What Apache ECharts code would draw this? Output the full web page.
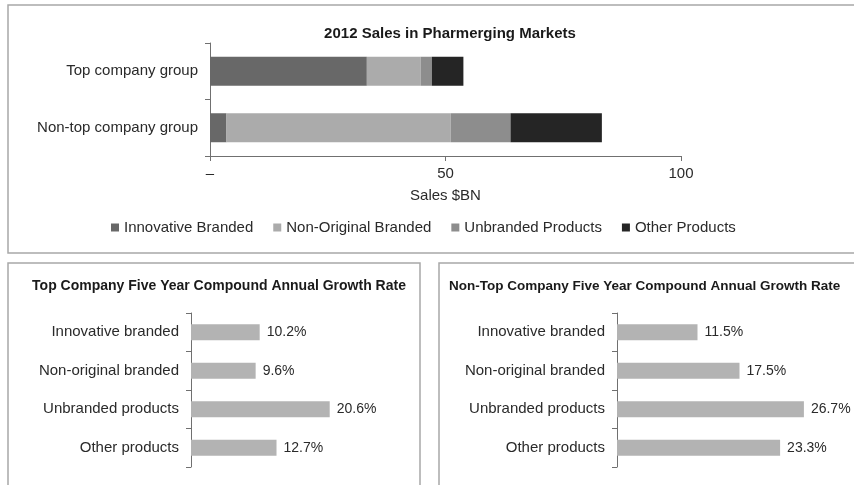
<!DOCTYPE html>
<html>
<head>
<meta charset="utf-8">
<script src="https://cdn.jsdelivr.net/npm/echarts@6/dist/echarts.min.js"></script>
<style>
  html, body { margin: 0; padding: 0; background: #fff; }
  #chart { width: 854px; height: 485px; }
</style>
</head>
<body>
<div id="chart"></div>
<script>
// 2012 sales ($BN) by group, stacked by product type
var groups = ['Top company group', 'Non-top company group'];
var productTypes = ['Innovative Branded', 'Non-Original Branded', 'Unbranded Products', 'Other Products'];
var innovative = [33.3, 3.5];
var nonOriginal = [11.4, 47.6];
var unbranded = [2.4, 12.7];
var other = [6.7, 19.4];
var salesTicks = [0, 50, 100];

// five year CAGR (%)
var cagrCategories = ['Innovative branded', 'Non-original branded', 'Unbranded products', 'Other products'];
var topCagr = [10.2, 9.6, 20.6, 12.7];
var nonTopCagr = [11.5, 17.5, 26.7, 23.3];

var colors = ['#686868', '#ababab', '#8d8d8d', '#252525'];
var font = 'Liberation Sans, Arial, sans-serif';

var dom = document.getElementById('chart');
var myChart = echarts.init(dom);

var stackData = [innovative, nonOriginal, unbranded, other];

function cagrBars(data, idx) {
    return {
        type: 'bar',
        xAxisIndex: idx,
        yAxisIndex: idx,
        data: data,
        barWidth: 16,
        itemStyle: { color: '#b3b3b3' },
        label: {
            show: true,
            position: 'right',
            distance: 7,
            color: '#2a2a2a',
            fontFamily: font,
            fontSize: 14,
            formatter: function (p) { return p.value.toFixed(1) + '%'; }
        },
        silent: true
    };
}

function catAxis(data, idx, size) {
    return {
        type: 'category',
        gridIndex: idx,
        data: data,
        inverse: true,
        axisLine: { show: true, lineStyle: { color: '#707070', width: 1 } },
        axisTick: { show: true, inside: false, length: 5, lineStyle: { color: '#707070', width: 1 } },
        axisLabel: { color: '#2a2a2a', fontFamily: font, fontSize: size, margin: 12 }
    };
}

var option = {
    animation: false,
    backgroundColor: '#fff',
    graphic: [
        { type: 'rect', shape: { x: 8, y: 5, width: 860, height: 248 }, style: { fill: 'none', stroke: '#a8a8a8', lineWidth: 1.5 } },
        { type: 'rect', shape: { x: 8, y: 263, width: 412, height: 230 }, style: { fill: 'none', stroke: '#a8a8a8', lineWidth: 1.5 } },
        { type: 'rect', shape: { x: 439, y: 263, width: 430, height: 230 }, style: { fill: 'none', stroke: '#a8a8a8', lineWidth: 1.5 } }
    ],
    title: [
        { text: '2012 Sales in Pharmerging Markets', left: 445, top: 21, textAlign: 'center',
          textStyle: { fontFamily: font, fontSize: 15, fontWeight: 'bold', color: '#1a1a1a' } },
        { text: 'Top Company Five Year Compound Annual Growth Rate', left: 214, top: 274, textAlign: 'center',
          textStyle: { fontFamily: font, fontSize: 14, fontWeight: 'bold', color: '#1a1a1a' } },
        { text: 'Non-Top Company Five Year Compound Annual Growth Rate', left: 449, top: 279, padding: 0,
          textStyle: { fontFamily: font, fontSize: 13.5, fontWeight: 'bold', color: '#1a1a1a' } }
    ],
    legend: {
        data: productTypes,
        left: 106,
        top: 215,
        icon: 'rect',
        itemWidth: 8,
        itemHeight: 8,
        itemGap: 20,
        textStyle: { color: '#2a2a2a', fontFamily: font, fontSize: 15 }
    },
    grid: [
        { left: 210, top: 43, width: 471, height: 113 },
        { left: 191, top: 313, width: 202, height: 154 },
        { left: 617, top: 313, width: 210, height: 154 }
    ],
    xAxis: [
        {
            type: 'value', gridIndex: 0, min: salesTicks[0], max: salesTicks[salesTicks.length - 1], interval: 50,
            name: 'Sales $BN', nameLocation: 'middle', nameGap: 32,
            nameTextStyle: { color: '#2a2a2a', fontFamily: font, fontSize: 15 },
            splitLine: { show: false },
            axisLine: { show: true, lineStyle: { color: '#707070' } },
            axisTick: { show: true, length: 5, lineStyle: { color: '#707070' } },
            axisLabel: {
                color: '#2a2a2a', fontFamily: font, fontSize: 15, margin: 10,
                formatter: function (v) { return v === 0 ? '–' : v; }
            }
        },
        { type: 'value', gridIndex: 1, min: 0, max: 30, show: false },
        { type: 'value', gridIndex: 2, min: 0, max: 30, show: false }
    ],
    yAxis: [
        catAxis(groups, 0, 15),
        catAxis(cagrCategories, 1, 15),
        catAxis(cagrCategories, 2, 15)
    ],
    series: productTypes.map(function (name, i) {
        return {
            name: name,
            type: 'bar',
            stack: 'sales',
            xAxisIndex: 0,
            yAxisIndex: 0,
            barWidth: 29,
            data: stackData[i],
            itemStyle: { color: colors[i] },
            silent: true
        };
    }).concat([cagrBars(topCagr, 1), cagrBars(nonTopCagr, 2)])
};

if (option && typeof option === 'object') {
    myChart.setOption(option, true);
}

window.onresize = function () {
    myChart.resize();
};
</script>
</body>
</html>
